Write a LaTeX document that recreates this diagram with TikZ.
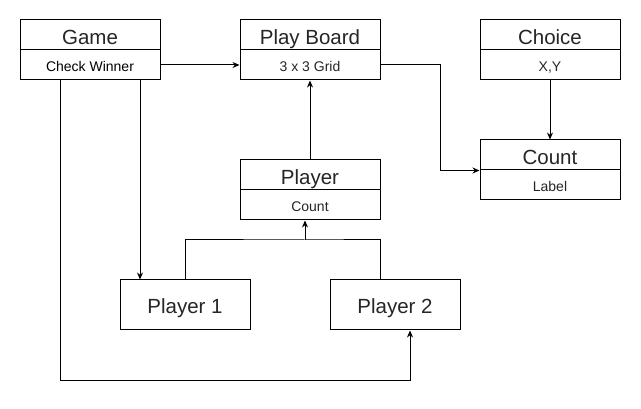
\documentclass[tikz,border=0pt]{standalone}
\usepackage{fontspec}
\setmainfont{Liberation Sans}
\usetikzlibrary{arrows.meta}
\begin{document}
\begin{tikzpicture}[x=1pt,y=1pt,
  box/.style={draw, line width=1pt, minimum width=140pt, minimum height=30pt, inner sep=0pt, font=\fontsize{20.5}{24}\selectfont, text=black!85, text height=20pt, text depth=0pt},
  sub/.style={box, font=\fontsize{14}{16}\selectfont, text=black!85, text height=14pt, text depth=0pt},
  plain/.style={box, minimum width=130pt, minimum height=50pt, text height=16pt, text depth=0pt},
  link/.style={line width=1pt},
  conn/.style={link, -{Stealth[length=7pt,width=6pt]}}]
\useasboundingbox[fill=white] (0,0) rectangle (641,-409);
% boxes
\node[box] (game) at (90,-35) {Game};
\node[sub, text=black] (gamesub) at (90,-65) {Check Winner};
\node[box] (board) at (310,-35) {Play Board};
\node[sub] (boardsub) at (310,-65) {3 x 3 Grid};
\node[box] (choice) at (550,-35) {Choice};
\node[sub] (choicesub) at (550,-65) {X,Y};
\node[box] (count) at (550,-155) {Count};
\node[sub] (countsub) at (550,-185) {Label};
\node[box] (player) at (310,-175) {Player};
\node[sub] (playersub) at (310,-205) {Count};
\node[plain] (p1) at (185,-305) {Player 1};
\node[plain] (p2) at (395,-305) {Player 2};
\coordinate (j) at (305,-240);
\coordinate (p2top) at (380,-280);
% connectors
\draw[conn] (gamesub.east) -- (boardsub.west);
\draw[conn] (boardsub.east) -- ++(60,0) |- (count.south west);
\draw[conn] (choicesub.south) -- (count.north);
\draw[conn] (player.north) -- (boardsub.south);
\draw[link] (p1.north) |- (j) -| (p2top);
\draw[conn] (j) -- (j |- playersub.south);
\draw[conn] ([xshift=50pt]gamesub.south) -- ([xshift=50pt]gamesub.south |- p1.north);
\draw[conn] ([xshift=-30pt]gamesub.south) -- ++(0,-300) -| ([xshift=15pt]p2.south);
\end{tikzpicture}
\end{document}
